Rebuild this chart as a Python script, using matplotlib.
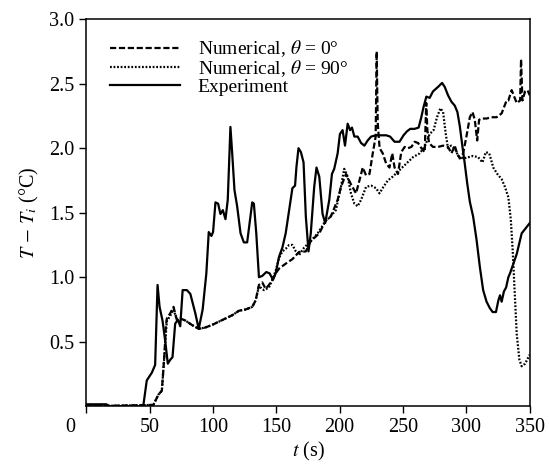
import matplotlib
matplotlib.use('Agg')
import matplotlib.pyplot as plt
from matplotlib.transforms import ScaledTranslation

plt.rcParams['font.family'] = ['Liberation Serif', 'DejaVu Serif']
plt.rcParams['mathtext.fontset'] = 'stix'

# Experiment (solid)
t_exp = [0, 16, 18, 45, 47.8, 51.8, 54.4, 56.3, 57.9, 60.2, 62.3, 64.4, 66.3, 68.1,
         70.2, 72.4, 74.2, 76.1, 79.5, 82.2, 86.1, 88.8, 91.9, 94.8, 96.7, 98.8, 100.1,
         102, 104.1, 105.9, 107.8, 109.9, 111.7, 113.8, 115.2, 117.0, 119.1, 121.8,
         124.4, 127.0, 128.9, 131.0, 132.3, 134.2, 136.3, 138.9, 142.1, 144.7, 147.4,
         149.5, 152.2, 154.8, 157.4, 160.1, 162.7, 164.8, 165.9, 167.5, 169.4, 171.5,
         173.3, 175.4, 177.2, 179.9, 181.7, 183.9, 186.5, 188.6, 191.8, 193.9, 195.7,
         198.4, 200.2, 202.3, 204.2, 206.3, 208.2, 209.7, 211.6, 214.2, 216.9, 219.5,
         222.1, 224.8, 228.7, 232.7, 236.7, 239.8, 243.3, 247.2, 250.4, 253.0, 255.7,
         259.1, 262.3, 264.4, 266.2, 268.4, 271, 273.6, 277.6, 280.8, 282.9, 285.5,
         288.2, 290.8, 292.9, 294.8, 296.9, 298.7, 300.6, 302.7, 305.3, 308.0, 310.6,
         313.2, 315.9, 318.5, 320.7, 323.3, 325.2, 326.5, 327.8, 329.6, 331.3, 333.1,
         334.4, 339.7, 343.6, 347.6, 350]
T_exp = [0.015, 0.015, 0, 0, 0.2, 0.26, 0.32, 0.94, 0.77, 0.665, 0.51, 0.33, 0.36, 0.38,
         0.64, 0.67, 0.62, 0.9, 0.9, 0.87, 0.72, 0.6, 0.75, 1.03, 1.35, 1.32, 1.35,
         1.58, 1.57, 1.49, 1.52, 1.45, 1.6, 2.165, 1.96, 1.675, 1.55, 1.34,
         1.27, 1.27, 1.42, 1.58, 1.57, 1.34, 1.0, 1.01, 1.04, 1.03, 0.98,
         1.03, 1.16, 1.23, 1.34, 1.52, 1.69, 1.71, 1.855, 2.0, 1.97, 1.89,
         1.47, 1.2, 1.34, 1.70, 1.85, 1.78, 1.49, 1.42, 1.6, 1.80, 1.84,
         1.96, 2.11, 2.14, 2.02, 2.19, 2.14, 2.16, 2.09, 2.09, 2.04, 2.02,
         2.06, 2.09, 2.10, 2.10, 2.10, 2.09, 2.05, 2.05, 2.10, 2.13, 2.15,
         2.15, 2.16, 2.24, 2.32, 2.40, 2.39, 2.44, 2.475, 2.506, 2.475, 2.41,
         2.36, 2.33, 2.28, 2.17, 2.01, 1.88, 1.73, 1.585, 1.47, 1.29, 1.08,
         0.90, 0.81, 0.76, 0.73, 0.73, 0.82, 0.86, 0.81, 0.89, 0.92, 1.0,
         1.03, 1.18, 1.34, 1.39, 1.42]

# Numerical, theta = 0 deg (dashed)
t_n0 = [0, 53, 57, 59.7, 61.8, 62.8, 63.6, 66.3, 68.9, 71.5, 74.2, 78.1, 83.4, 88.8,
        94, 99.3, 104.6, 109.9, 115.2, 120.5, 125.8, 131.0, 133.7, 136.3, 138.9, 141.6,
        144.2, 146.9, 149.5, 152.2, 157.4, 162.7, 168, 173.3, 177.2, 183.9, 189, 193,
        198.4, 201, 205, 208.9, 212.9, 215.6, 218.2, 220.8, 223.5, 226.1, 228.4, 229.2,
        230.0, 231.5, 234.0, 236.7, 239.3, 241.5, 243.3, 246, 248.6, 251.3, 253.9,
        256.6, 259.2, 261.9, 264.5, 267.1, 268.3, 269.2, 270.5, 273.6, 277.6, 281.6,
        285.5, 288.2, 290.8, 292.6, 294.8, 297.4, 300, 302.7, 304.8, 306.6, 308.5, 310,
        311.9, 315.9, 319.8, 323.8, 327.8, 331.7, 333.1, 335.7, 339.7, 342.4, 343.1,
        344.2, 346.3, 348.2, 350]
T_n0 = [0, 0.01, 0.09, 0.12, 0.41, 0.61, 0.68, 0.72, 0.77, 0.67, 0.68, 0.665, 0.63, 0.60,
        0.61, 0.63, 0.655, 0.68, 0.705, 0.74, 0.75, 0.77, 0.82, 0.94, 0.96, 0.91,
        0.94, 0.98, 1.03, 1.067, 1.105, 1.14, 1.196, 1.2, 1.28, 1.34, 1.44, 1.47,
        1.6, 1.70, 1.80, 1.72, 1.65, 1.75, 1.85, 1.79, 1.80, 1.96, 2.09, 2.75,
        2.2, 2.0, 1.96, 1.88, 1.85, 1.96, 1.85, 1.80, 1.97, 2.01, 2.0,
        2.01, 2.05, 2.04, 2.0, 1.97, 2.35, 2.14, 2.04, 2.01, 2.01, 2.02,
        2.01, 1.96, 2.02, 1.96, 1.92, 1.96, 2.09, 2.24, 2.28, 2.22, 2.06, 2.22,
        2.23, 2.23, 2.24, 2.24, 2.27, 2.37, 2.37, 2.45, 2.35, 2.37, 2.69,
        2.37, 2.44, 2.45, 2.41]

# Numerical, theta = 90 deg (dotted)
t_n90 = [0, 53, 57, 59.7, 61.8, 63.6, 66.3, 68.9, 71.5, 74.2, 78.1, 83.4, 88.8, 94,
         99.3, 104.6, 109.9, 115.2, 120.5, 125.8, 131.0, 133.7, 136.3, 140.3, 144.2,
         146.9, 149.5, 152.2, 154.8, 157.4, 160.1, 162.7, 165.4, 167.9, 172, 177.2,
         182.6, 189.2, 191.8, 197.0, 201, 203.6, 206.3, 208.9, 211.6, 214.2, 216.9,
         220.8, 224.8, 228.7, 231.4, 234.5, 238, 241.9, 247.2, 252.5, 257.8, 263.1,
         267, 271, 274.1, 276.8, 279.5, 281.6, 283.7, 285.5, 288, 290.8, 293.5, 297.4,
         301.4, 305.3, 309.3, 312.7, 315.3, 318, 321.2, 324.4, 327.8, 330.4, 333.1,
         335, 336.5, 338.4, 339.7, 341.8, 343.6, 346.3, 350]
T_n90 = [0, 0.01, 0.09, 0.12, 0.41, 0.66, 0.70, 0.75, 0.67, 0.68, 0.665, 0.63, 0.60, 0.61,
         0.63, 0.655, 0.68, 0.705, 0.74, 0.75, 0.77, 0.82, 0.93, 0.90, 0.92,
         0.98, 1.05, 1.15, 1.2, 1.22, 1.25, 1.25, 1.2, 1.17, 1.23, 1.28,
         1.34, 1.44, 1.46, 1.52, 1.70, 1.84, 1.78, 1.65, 1.57, 1.55, 1.60,
         1.70, 1.71, 1.69, 1.65, 1.70, 1.75, 1.78, 1.83, 1.88, 1.93, 1.96,
         2.01, 2.11, 2.14, 2.24, 2.31, 2.28, 2.11, 2.0, 2.02, 2.0, 1.94, 1.92,
         1.93, 1.94, 1.93, 1.89, 1.97, 1.96, 1.85, 1.80, 1.76, 1.70, 1.62,
         1.45, 1.21, 0.82, 0.56, 0.36, 0.31, 0.33, 0.40]

labels = [r'Numerical, $\theta$ = 0°', r'Numerical, $\theta$ = 90°', 'Experiment']
xticks = [0, 50, 100, 150, 200, 250, 300, 350]
yticks = [0.5, 1.0, 1.5, 2.0, 2.5, 3.0]

fig = plt.figure(figsize=(5.49, 4.68), dpi=100)
ax = fig.add_axes([0.157, 0.132, 0.808, 0.827])

ax.plot(t_n0, T_n0, color='black', lw=1.6, linestyle=(0, (2.8, 1.2)), label=labels[0])
ax.plot(t_n90, T_n90, color='black', lw=1.6, linestyle=(0, (0.8, 0.8)), label=labels[1])
ax.plot(t_exp, T_exp, color='black', lw=1.6, label=labels[2])

ax.set_xlim(0, 350)
ax.set_ylim(0, 3.0)
ax.set_xticks(xticks)
ax.set_yticks(yticks)
ax.set_yticklabels([f'{v:.1f}' for v in yticks])
ax.tick_params(direction='out', length=5, width=1, labelsize=14.5, colors='black')

# the "0" label sits a bit left of its tick
lab0 = ax.get_xticklabels()[0]
lab0.set_transform(lab0.get_transform() + ScaledTranslation(-0.16, 0, fig.dpi_scale_trans))

for s in ax.spines.values():
    s.set_linewidth(1.1)

ax.set_xlabel(r'$t$ (s)', fontsize=14.5, labelpad=2)
ax.set_ylabel(r'$T\,-\,T_i$ (°C)', fontsize=14.5, labelpad=6)

ax.legend(loc='upper left', bbox_to_anchor=(0.054, 0.95), frameon=False, fontsize=14,
          handlelength=3.6, handletextpad=0.9, labelspacing=-0.05, borderpad=0,
          borderaxespad=0)

fig.savefig('out.png', dpi=100)
